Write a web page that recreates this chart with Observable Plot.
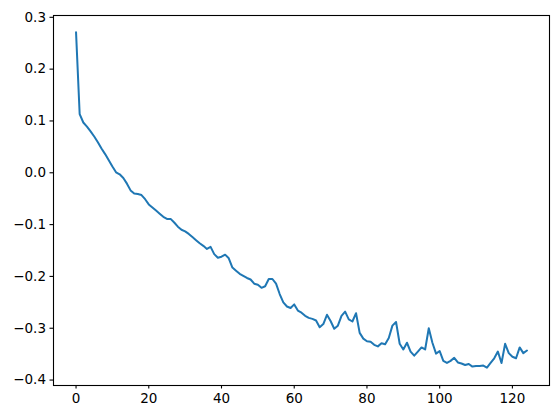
<!DOCTYPE html>
<html>
<head>
<meta charset="utf-8">
<script src="https://cdn.jsdelivr.net/npm/d3@7"></script>
<script src="https://cdn.jsdelivr.net/npm/@observablehq/plot@0.6"></script>
<style>
  html, body { margin: 0; padding: 0; background: #fff; }
</style>
</head>
<body>
<div id="chart"></div>
<script>
const values = [
  0.271, 0.113, 0.097, 0.089, 0.080, 0.070, 0.059, 0.047, 0.036, 0.024,
  0.012, 0.001, -0.003, -0.010, -0.021, -0.034, -0.040, -0.041, -0.043, -0.051,
  -0.061, -0.067, -0.073, -0.079, -0.085, -0.089, -0.089, -0.096, -0.104, -0.110,
  -0.113, -0.118, -0.124, -0.130, -0.136, -0.141, -0.147, -0.143, -0.157, -0.164,
  -0.162, -0.158, -0.165, -0.183, -0.189, -0.195, -0.199, -0.203, -0.206, -0.214,
  -0.216, -0.222, -0.219, -0.205, -0.205, -0.214, -0.234, -0.250, -0.258, -0.261,
  -0.254, -0.266, -0.270, -0.276, -0.280, -0.282, -0.285, -0.298, -0.292, -0.274,
  -0.286, -0.301, -0.295, -0.276, -0.268, -0.283, -0.287, -0.271, -0.309, -0.320,
  -0.325, -0.326, -0.332, -0.335, -0.329, -0.331, -0.319, -0.295, -0.288, -0.330,
  -0.341, -0.328, -0.345, -0.353, -0.345, -0.337, -0.341, -0.300, -0.328, -0.349,
  -0.344, -0.363, -0.367, -0.363, -0.357, -0.366, -0.368, -0.371, -0.369, -0.374,
  -0.373, -0.373, -0.372, -0.376, -0.367, -0.358, -0.345, -0.367, -0.330, -0.348,
  -0.355, -0.358, -0.337, -0.348, -0.343
];
const xTicks = [0, 20, 40, 60, 80, 100, 120];
const yTicks = [-0.4, -0.3, -0.2, -0.1, 0.0, 0.1, 0.2, 0.3];

const data = values.map((v, i) => ({x: i, y: v}));

const chart = Plot.plot({
  width: 559,
  height: 417,
  marginLeft: 53,
  marginRight: 10,
  marginTop: 15,
  marginBottom: 32,
  style: {fontFamily: "DejaVu Sans", fontSize: "13.5px", color: "black", background: "white"},
  x: {domain: [-6.2, 130.2]},
  y: {domain: [-0.4105, 0.3035]},
  marks: [
    Plot.line(data, {x: "x", y: "y", stroke: "#1f77b4", strokeWidth: 2}),
    Plot.frame({stroke: "black", strokeWidth: 1.1}),
    Plot.axisX({ticks: xTicks, tickSize: 3.5, tickPadding: 4, tickFormat: d3.format("d"), label: null, fontSize: 13.5, strokeWidth: 1.1}),
    Plot.axisY({ticks: yTicks, tickSize: 3.5, tickPadding: 4, tickFormat: d3.format(".1f"), label: null, fontSize: 13.5, strokeWidth: 1.1})
  ]
});
document.getElementById("chart").appendChild(chart);
</script>
</body>
</html>
